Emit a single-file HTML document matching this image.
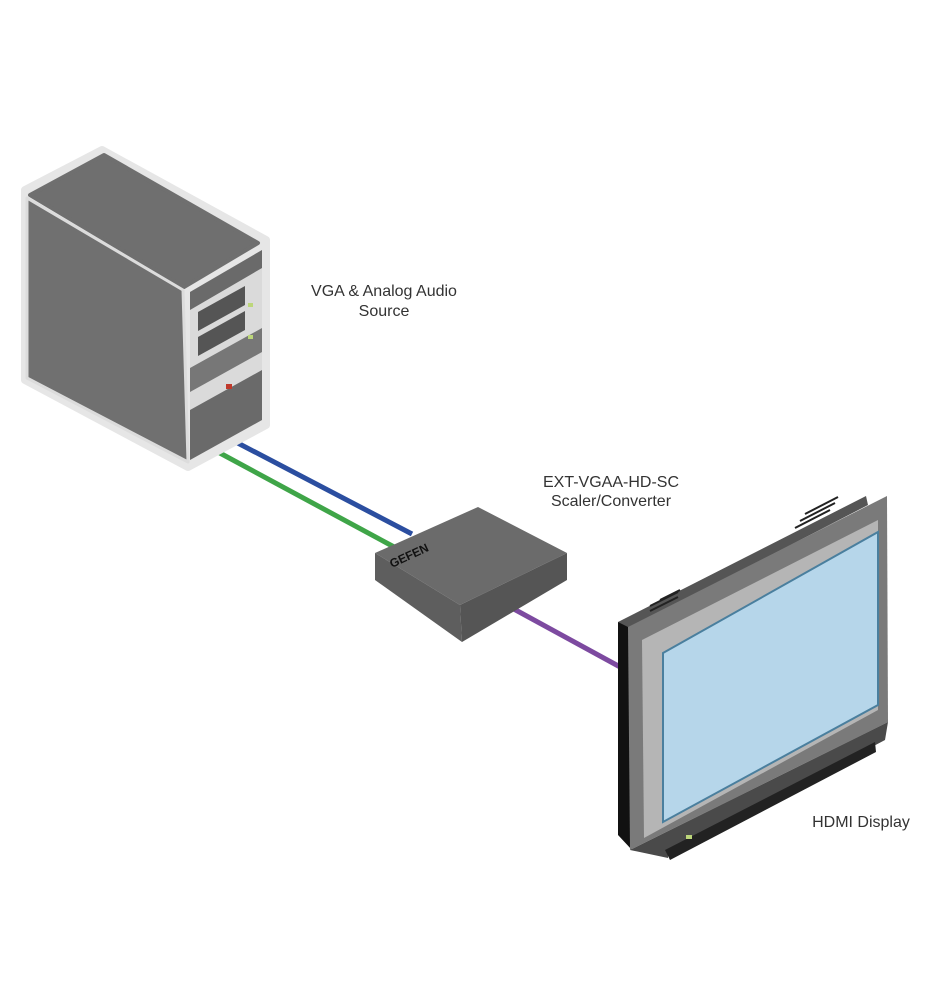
<!DOCTYPE html>
<html><head><style>body{margin:0;background:#fff}svg{display:block}</style></head><body>
<svg width="939" height="1000" viewBox="0 0 939 1000" xmlns="http://www.w3.org/2000/svg" font-family="Liberation Sans, sans-serif">
<!-- cables -->
<line x1="232" y1="440" x2="412" y2="534" stroke="#2b4ea0" stroke-width="5"/>
<line x1="218" y1="452" x2="396" y2="548" stroke="#3fa548" stroke-width="5"/>
<line x1="512" y1="608" x2="622" y2="668" stroke="#7d4aa0" stroke-width="5"/>
<!-- PC -->
<polygon points="25,190 102,150 266,240 266,425 188,467 25,380" fill="#e6e6e6" stroke="#e6e6e6" stroke-width="8" stroke-linejoin="round"/>
<polygon points="30,195 104,155 258,243 184,287" fill="#6f6f6f" stroke="#6f6f6f" stroke-width="4" stroke-linejoin="round"/>
<polygon points="27,198 183,290 188,462 27,378" fill="#707070" stroke="#dcdcdc" stroke-width="3" stroke-linejoin="round"/>
<polygon points="190,292 262,250 262,420 190,460" fill="#dadada"/>
<polygon points="190,292 262,250 262,268 190,310" fill="#6a6a6a"/>
<polygon points="198,312 245,286 245,305 198,331" fill="#555"/>
<polygon points="198,337 245,311 245,330 198,356" fill="#555"/>
<polygon points="190,368 262,328 262,352 190,392" fill="#777"/>
<polygon points="190,410 262,370 262,420 190,460" fill="#6a6a6a"/>
<rect x="248" y="303" width="5" height="4" fill="#bcd67a"/>
<rect x="248" y="335" width="5" height="4" fill="#bcd67a"/>
<rect x="226" y="384" width="6" height="5" fill="#c0392b"/>
<!-- Box -->
<polygon points="375,553 478,507 567,553 460,605" fill="#6b6b6b"/>
<polygon points="375,553 460,605 462,642 375,580" fill="#5e5e5e"/>
<polygon points="460,605 567,553 567,580 462,642" fill="#555"/>
<text x="392" y="568" font-size="12" font-weight="bold" fill="#111" transform="rotate(-25 392 568)">GEFEN</text>
<!-- Monitor -->
<polygon points="618,622 866,496 868,505 626,630" fill="#555"/>
<polygon points="618,622 630,628 632,850 618,835" fill="#111"/>
<polygon points="628,627 887,496 888,722 630,850" fill="#7a7a7a"/>
<polygon points="642,640 878,520 878,710 644,838" fill="#b5b5b5"/>
<polygon points="663,653 878,532 878,705 663,822" fill="#b6d6ea" stroke="#4a7f9e" stroke-width="2"/>
<polygon points="630,850 888,722 885,740 668,855 668,858 630,850" fill="#4a4a4a"/>
<polygon points="665,850 875,742 876,752 670,860" fill="#222"/>
<rect x="686" y="835" width="6" height="4" fill="#bcd67a"/>
<g stroke="#222" stroke-width="2"><line x1="650" y1="611" x2="678" y2="597"/><line x1="650" y1="606" x2="678" y2="592"/><line x1="660" y1="600" x2="680" y2="590"/><line x1="795" y1="528" x2="830" y2="510"/><line x1="800" y1="521" x2="835" y2="503"/><line x1="805" y1="514" x2="838" y2="497"/></g>
<!-- labels -->
<g font-size="16" fill="#333" text-anchor="middle">
<text x="384" y="296">VGA &amp; Analog Audio</text>
<text x="384" y="316">Source</text>
<text x="611" y="487">EXT-VGAA-HD-SC</text>
<text x="611" y="506">Scaler/Converter</text>
<text x="861" y="827">HDMI Display</text>
</g>
</svg>
</body></html>
